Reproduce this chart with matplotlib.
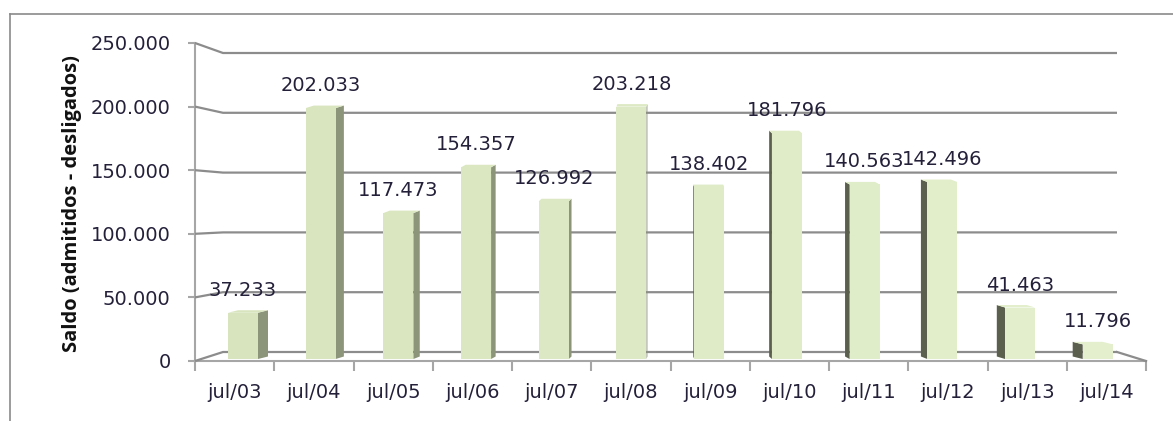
import matplotlib
matplotlib.use("Agg")
import matplotlib.pyplot as plt
from matplotlib.patches import Polygon
from matplotlib.lines import Line2D
from matplotlib.colors import to_rgb

# data
categories = ["jul/03", "jul/04", "jul/05", "jul/06", "jul/07", "jul/08",
              "jul/09", "jul/10", "jul/11", "jul/12", "jul/13", "jul/14"]
saldo = [37233, 202033, 117473, 154357, 126992, 203218,
         138402, 181796, 140563, 142496, 41463, 11796]
y_ticks = [0, 50000, 100000, 150000, 200000, 250000]
y_label = "Saldo (admitidos - desligados)"

W, H = 1173, 421
text_color = "#25203a"
grid_color = "#8c8c8c"
axis_color = "#a6a6a6"

# layout of the fake 3D box (pixels)
bar_x0, bar_step = 243, 77.7        # bar plane: centre of first bar, spacing
bar_base, bar_scale = 359, 1.242e-3  # bar plane: y of zero, px per unit
front_left, front_right, front_base, front_top = 195, 1146, 361, 43
back_left, back_right, back_base, back_scale = 223, 1117, 352, 1.196e-3
front_scale = (front_base - front_top) / 250000
vanish_x, depth_k, depth_dy = 670, 0.0234, 2.5


def px_to_x(px):
    return (px - bar_x0) / bar_step


def py_to_y(py):
    return (bar_base - py) / bar_scale


def fmt(v):
    return f"{v:,}".replace(",", ".")


fig = plt.figure(figsize=(W / 100, H / 100), dpi=100)

# front plane: real axis lines, ticks and labels
axf = fig.add_axes([front_left / W, (H - front_base) / H,
                    (front_right - front_left) / W, (front_base - front_top) / H])
axf.set_facecolor("none")
axf.set_xlim(-0.5, len(categories) - 0.5)
axf.set_ylim(0, 250000)
for s in ["top", "right"]:
    axf.spines[s].set_visible(False)
for s in ["left", "bottom"]:
    axf.spines[s].set_color(axis_color)
    axf.spines[s].set_linewidth(1.5)
axf.set_yticks(y_ticks)
axf.set_yticklabels([fmt(v) for v in y_ticks])
axf.set_xticks([i - 0.5 for i in range(len(categories) + 1)])
axf.set_xticklabels([])
axf.set_xticks(range(len(categories)), minor=True)
axf.set_xticklabels(categories, minor=True)
axf.tick_params(axis="y", direction="out", length=5, width=1.5, color=axis_color,
                pad=12.5, labelsize=14, labelcolor=text_color)
axf.tick_params(axis="x", which="major", direction="out", length=7, width=1.5,
                color=axis_color)
axf.tick_params(axis="x", which="minor", length=0, pad=15.5, labelsize=14,
                labelcolor=text_color)

# bar plane: full-figure axes
ax = fig.add_axes([0, 0, 1, 1])
ax.set_xlim(px_to_x(0), px_to_x(W))
ax.set_ylim(py_to_y(H), py_to_y(0))
ax.axis("off")

# back wall grid with diagonal links to the front axis
for v in y_ticks:
    fy = py_to_y(front_base - front_scale * v)
    by = py_to_y(back_base - back_scale * v)
    ax.plot([px_to_x(front_left), px_to_x(back_left), px_to_x(back_right)],
            [fy, by, by], color=grid_color, lw=1.6, zorder=1,
            solid_capstyle="butt")
ax.plot([px_to_x(back_right), px_to_x(front_right)],
        [py_to_y(back_base), py_to_y(front_base)], color=grid_color, lw=1.6, zorder=1)

# bars
n = len(categories)
c_left, c_right = to_rgb("#d7e4bd"), to_rgb("#e4f0cd")
face_colors = [tuple(a + (b - a) * i / (n - 1) for a, b in zip(c_left, c_right))
               for i in range(n)]
bw = 30 / bar_step
xs = list(range(n))
ax.bar(xs, saldo, width=bw, color=face_colors, edgecolor="none", zorder=4)

dy = depth_dy / bar_scale
for i, v in enumerate(saldo):
    cx = bar_x0 + bar_step * i
    dx = (vanish_x - cx) * depth_k / bar_step
    x0, x1 = i - bw / 2, i + bw / 2
    if dx > 0:
        side = [(x1, 0), (x1 + dx, dy), (x1 + dx, v + dy), (x1, v)]
        side_col = "#8c947a"
    else:
        side = [(x0, 0), (x0 + dx, dy), (x0 + dx, v + dy), (x0, v)]
        side_col = "#5b5f4d"
    ax.add_patch(Polygon(side, closed=True, facecolor=side_col, edgecolor="none",
                         zorder=3))
    top = [(x0, v), (x1, v), (x1 + dx, v + dy), (x0 + dx, v + dy)]
    ax.add_patch(Polygon(top, closed=True, facecolor=face_colors[i],
                         edgecolor="none", zorder=3))
    ax.annotate(fmt(v), (i, v), xytext=(0, 12.2), textcoords="offset points",
                ha="center", va="baseline", fontsize=14, color=text_color,
                zorder=5)

fig.text(72 / W, 1 - 204 / H, y_label, rotation=90, ha="center", va="center",
         fontsize=14.5, fontweight="bold", family=["Open Sans", "DejaVu Sans"],
         color="#111111")

# outer chart border (top and left edges visible)
fig.add_artist(Line2D([9.5 / W, 1], [1 - 13.5 / H, 1 - 13.5 / H],
                      transform=fig.transFigure, color="#8a8a8a", lw=1.2))
fig.add_artist(Line2D([9.5 / W, 9.5 / W], [0, 1 - 13.5 / H],
                      transform=fig.transFigure, color="#8a8a8a", lw=1.2))

fig.savefig("out.png", dpi=100)
